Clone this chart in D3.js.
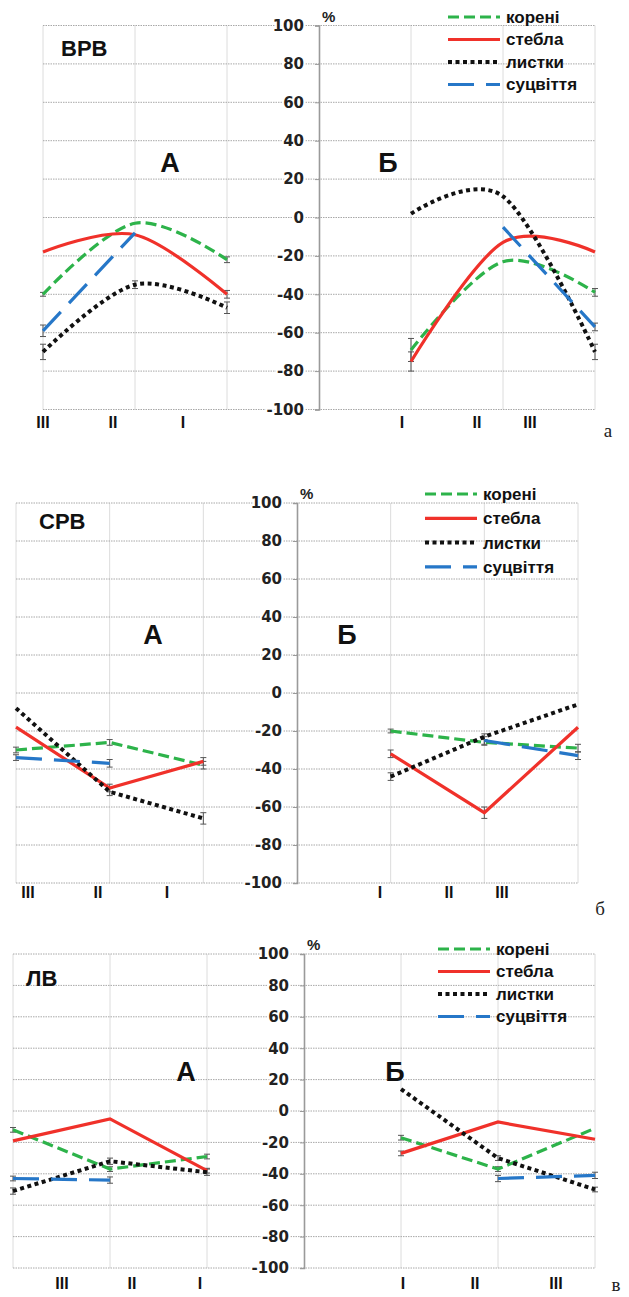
<!DOCTYPE html>
<html>
<head>
<meta charset="utf-8">
<title>ВРВ / СРВ / ЛВ</title>
<style>
  body { margin: 0; background: #fff; }
  svg text { font-family: "Liberation Sans", Arial, sans-serif; }
</style>
</head>
<body>
<div id="chart"></div>
<script src="https://cdn.jsdelivr.net/npm/d3@7"></script>
<script>
// ---- data ----
var parts = ["корені", "стебла", "листки", "суцвіття"];
var yTicks = [100, 80, 60, 40, 20, 0, -20, -40, -60, -80, -100];
var phasesA = ["III", "II", "I"];
var phasesB = ["I", "II", "III"];
var panelNames = ["ВРВ", "СРВ", "ЛВ"];
var panelLetters = ["а", "б", "в"];

// values per part (корені, стебла, листки, суцвіття), 3 phases, null = no data
var vrvA = [[-40, -3, -22], [-18, -9, -40], [-70, -35, -47], [-59, -8, null]];
var vrvB = [[-69, -23, -39], [-75, -13, -18], [2, 11, -70], [null, -5, -57]];
var srvA = [[-30, -26, -38], [-18, -50, -36], [-8, -52, -66], [-34, -37, null]];
var srvB = [[-20, -26, -29], [-32, -63, -18], [-44, -23, -6], [null, -25, -33]];
var lvA = [[-12, -37, -29], [-19, -5, -38], [-51, -32, -39], [-43, -44, null]];
var lvB = [[-17, -37, -11], [-27, -7, -18], [14, -30, -50], [null, -43, -41]];

// error bar half widths
var vrvAErr = [[1, 0, 1.5], [0, 0, 2], [4, 2, 3], [3, 0, 0]];
var vrvBErr = [[6, 0, 2], [5, 0, 0], [0, 0, 4], [0, 0, 2]];
var srvAErr = [[1.5, 1.5, 2], [0, 2, 2], [0, 2, 3], [1.5, 2, 0]];
var srvBErr = [[1, 1.5, 2], [2, 3, 0], [2, 1.5, 0], [0, 2, 2]];
var lvAErr = [[1.5, 1.5, 1.5], [0, 0, 1.5], [2, 2, 2], [1.5, 2, 0]];
var lvBErr = [[1.5, 1.5, 0], [1.5, 0, 0], [0, 1.5, 1.5], [0, 2, 2]];

// ---- layout ----
var W = 629, H = 1297;
var layouts = [
  { left: 43, right: 595, top: 25.5, bottom: 409.5, smooth: true,
    labA: [43, 113, 183], labB: [402, 477, 530], labY: 428,
    nameX: 61, nameY: 56, abY: 172, aX: 170, bX: 388,
    legX: 448, legY: 17, legStep: 22.5, letX: 608, letY: 437 },
  { left: 16, right: 578, top: 503, bottom: 883, smooth: false,
    labA: [28, 98, 167], labB: [380, 449, 502], labY: 898,
    nameX: 39, nameY: 529, abY: 644, aX: 153, bX: 347,
    legX: 425, legY: 494, legStep: 24.3, letX: 600, letY: 915 },
  { left: 13, right: 595, top: 954, bottom: 1268, smooth: false,
    labA: [62, 132, 200], labB: [403, 475, 556], labY: 1289,
    nameX: 26, nameY: 986, abY: 1081, aX: 186, bX: 395,
    legX: 438, legY: 949, legStep: 22.5, letX: 616, letY: 1291 }
];
var valuesA = [vrvA, srvA, lvA];
var valuesB = [vrvB, srvB, lvB];
var errA = [vrvAErr, srvAErr, lvAErr];
var errB = [vrvBErr, srvBErr, lvBErr];

var colors = ["#2db34a", "#f0312a", "#111111", "#2677c8"];
var dashes = ["11,5", null, "4,3.5", "26,12"];
var widths = [3.2, 3.2, 4, 3.2];

var svg = d3.select("#chart").append("svg")
  .attr("width", W).attr("height", H);

layouts.forEach(function (L, pi) {
  var g = svg.append("g");
  var x = d3.scalePoint().domain(d3.range(7)).range([L.left, L.right]);
  var y = d3.scaleLinear().domain([-100, 100]).range([L.bottom, L.top]);
  var axisX = x(3);

  // vertical grid
  g.selectAll(".vg").data([0, 1, 2, 4, 5, 6]).enter().append("line")
    .attr("x1", function (d) { return x(d); }).attr("x2", function (d) { return x(d); })
    .attr("y1", y(100)).attr("y2", y(-100))
    .attr("stroke", "#dcdcdc").attr("stroke-width", 1);

  // horizontal grid
  g.selectAll(".hg").data(yTicks).enter().append("line")
    .attr("x1", L.left).attr("x2", L.right)
    .attr("y1", function (d) { return y(d); }).attr("y2", function (d) { return y(d); })
    .attr("stroke", "#a8a8a8").attr("stroke-width", 1)
    .attr("stroke-dasharray", "1.5,1");

  // central axis
  var ax = g.append("g").attr("transform", "translate(" + axisX + ",0)")
    .call(d3.axisLeft(y).tickValues(yTicks).tickSize(4).tickFormat(function (d) { return d; }));
  ax.select(".domain").attr("stroke", "#9a9a9a").attr("stroke-width", 1.6);
  ax.selectAll(".tick line").attr("stroke", "#9a9a9a");
  ax.selectAll(".tick text")
    .attr("x", -15)
    .style("font-family", "'DejaVu Sans', sans-serif")
    .style("font-weight", "bold").style("font-size", "15px")
    .attr("fill", "#222")
    .attr("stroke", "#fff").attr("stroke-width", 4)
    .attr("paint-order", "stroke");
  g.append("text").attr("x", axisX + 3).attr("y", L.top - 4)
    .style("font-weight", "bold").style("font-size", "15px").attr("fill", "#222")
    .text("%");

  // series
  var line = d3.line()
    .defined(function (d) { return d.v !== null; })
    .x(function (d) { return x(d.i); }).y(function (d) { return y(d.v); })
    .curve(L.smooth ? d3.curveCardinal : d3.curveLinear);

  [[valuesA[pi], errA[pi], 0], [valuesB[pi], errB[pi], 4]].forEach(function (side) {
    var vals = side[0], errs = side[1], off = side[2];
    // error bars first
    vals.forEach(function (row, si) {
      row.forEach(function (v, k) {
        var e = errs[si][k];
        if (v === null || !e) return;
        var cx = x(k + off);
        var eg = g.append("g").attr("stroke", "#555").attr("stroke-width", 1);
        eg.append("line").attr("x1", cx).attr("x2", cx).attr("y1", y(v - e)).attr("y2", y(v + e));
        eg.append("line").attr("x1", cx - 3).attr("x2", cx + 3).attr("y1", y(v - e)).attr("y2", y(v - e));
        eg.append("line").attr("x1", cx - 3).attr("x2", cx + 3).attr("y1", y(v + e)).attr("y2", y(v + e));
      });
    });
    vals.forEach(function (row, si) {
      var pts = row.map(function (v, k) { return { i: k + off, v: v }; })
        .filter(function (d) { return d.v !== null; });
      g.append("path").datum(pts)
        .attr("d", line)
        .attr("fill", "none")
        .attr("stroke", colors[si])
        .attr("stroke-width", widths[si])
        .attr("stroke-dasharray", dashes[si]);
    });
  });

  // category labels
  phasesA.forEach(function (t, k) {
    g.append("text").attr("x", L.labA[k]).attr("y", L.labY).attr("text-anchor", "middle")
      .style("font-weight", "bold").style("font-size", "16px").attr("fill", "#111").text(t);
  });
  phasesB.forEach(function (t, k) {
    g.append("text").attr("x", L.labB[k]).attr("y", L.labY).attr("text-anchor", "middle")
      .style("font-weight", "bold").style("font-size", "16px").attr("fill", "#111").text(t);
  });

  // titles
  g.append("text").attr("x", L.nameX).attr("y", L.nameY)
    .style("font-weight", "bold").style("font-size", "22px").attr("fill", "#111").text(panelNames[pi]);
  g.append("text").attr("x", L.aX).attr("y", L.abY).attr("text-anchor", "middle")
    .style("font-weight", "bold").style("font-size", "27px").attr("fill", "#111").text("А");
  g.append("text").attr("x", L.bX).attr("y", L.abY).attr("text-anchor", "middle")
    .style("font-weight", "bold").style("font-size", "27px").attr("fill", "#111").text("Б");

  // legend
  parts.forEach(function (p, si) {
    var ly = L.legY + si * L.legStep;
    g.append("line").attr("x1", L.legX).attr("x2", L.legX + 52)
      .attr("y1", ly).attr("y2", ly)
      .attr("stroke", colors[si]).attr("stroke-width", widths[si])
      .attr("stroke-dasharray", dashes[si]);
    g.append("text").attr("x", L.legX + 58).attr("y", ly).attr("dy", "0.35em")
      .style("font-weight", "bold").style("font-size", "17px").attr("fill", "#111").text(p);
  });

  // panel letter
  g.append("text").attr("x", L.letX).attr("y", L.letY).attr("text-anchor", "middle")
    .style("font-family", "'Liberation Serif', serif").style("font-size", "19px")
    .attr("fill", "#222").text(panelLetters[pi]);
});
</script>
</body>
</html>
